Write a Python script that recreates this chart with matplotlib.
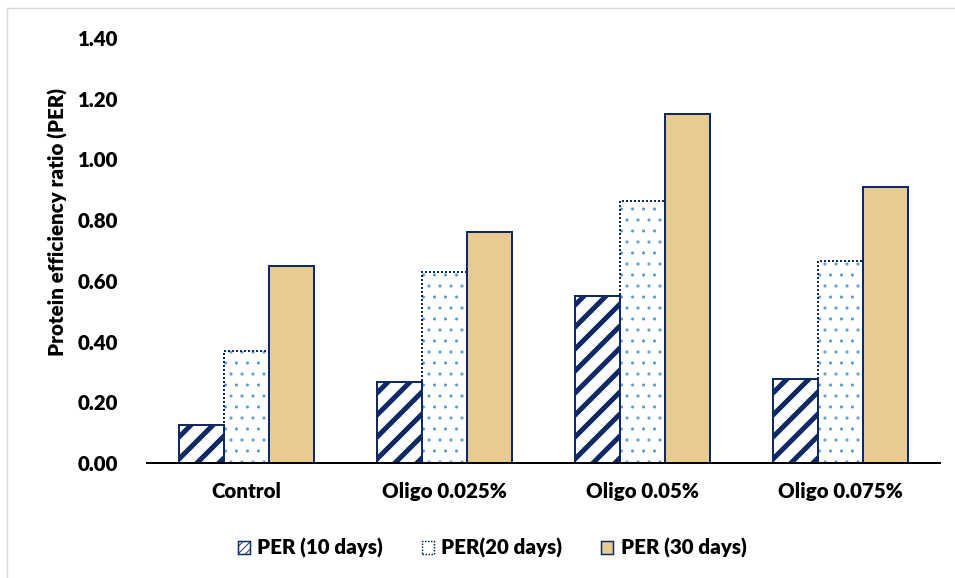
import matplotlib
matplotlib.use("Agg")
import matplotlib.pyplot as plt
from matplotlib.patches import Rectangle, Patch
import numpy as np

categories = ["Control", "Oligo 0.025%", "Oligo 0.05%", "Oligo 0.075%"]
series_names = ["PER (10 days)", "PER(20 days)", "PER (30 days)"]
per_10 = [0.125, 0.267, 0.55, 0.277]
per_20 = [0.37, 0.63, 0.863, 0.665]
per_30 = [0.65, 0.76, 1.15, 0.91]
yticks = [0.0, 0.2, 0.4, 0.6, 0.8, 1.0, 1.2, 1.4]

DPI = 66
PT = 72.0 / DPI  # points per pixel
FS = 20.5 * PT

plt.rcParams['font.family'] = ['Lato', 'DejaVu Sans']
plt.rcParams['font.weight'] = 'heavy'

W, H = 955, 578
fig = plt.figure(figsize=(W / DPI, H / DPI), dpi=DPI)
ax = fig.add_axes([147 / W, 1 - 463 / H, 793 / W, 425 / H])

navy = "#0D2A66"
dotblue = "#5B9BD5"
tan = "#E8CB92"

x = np.arange(len(categories))
bw = 0.227

def set_hlw(bars, lw):
    for b in bars:
        if hasattr(b, "set_hatch_linewidth"):
            b.set_hatch_linewidth(lw)

# 10 days: diagonal stripes
with plt.rc_context({'hatch.linewidth': 5.0 * PT}):
    b1 = ax.bar(x - bw, per_10, bw, facecolor="white", edgecolor=navy,
                hatch="/", linewidth=0, zorder=2)
set_hlw(b1, 5.0 * PT)
ax.bar(x - bw, per_10, bw, facecolor="none", edgecolor=navy,
       linewidth=2.0 * PT, zorder=3)

# 20 days: dots
with plt.rc_context({'hatch.linewidth': 0.9 * PT}):
    b2 = ax.bar(x, per_20, bw, facecolor="white", edgecolor=dotblue,
                hatch=".", linewidth=0, zorder=2)
set_hlw(b2, 0.9 * PT)
ax.bar(x, per_20, bw, facecolor="none", edgecolor=navy,
       linewidth=2.0 * PT, linestyle=(0, (1, 1)), zorder=3)

# 30 days: papyrus-like fill
ax.bar(x + bw, per_30, bw, facecolor=tan, edgecolor=navy,
       linewidth=2.0 * PT, zorder=2)

ax.set_xlim(-0.5, len(categories) - 0.5)
ax.set_ylim(0, 1.4)
ax.set_yticks(yticks)
ax.set_yticklabels([f"{v:.2f}" for v in yticks])
ax.set_xticks(x)
ax.set_xticklabels(categories)
ax.tick_params(axis='y', length=0, pad=29 * PT, labelsize=FS)
ax.tick_params(axis='x', length=0, pad=19 * PT, labelsize=FS)
for s in ["top", "right", "left"]:
    ax.spines[s].set_visible(False)
ax.spines["bottom"].set_linewidth(2.0 * PT)
ax.spines["bottom"].set_color("black")
ax.spines["bottom"].set_zorder(4)

ax.set_ylabel("Protein efficiency ratio (PER)", fontsize=FS,
              fontweight='heavy', va='center')
ax.yaxis.set_label_coords((58 - 147) / 793, (463 - 222) / 425)

# legend
h1 = Patch(facecolor="white", edgecolor=navy, hatch="///", linewidth=1.5 * PT)
h2 = Patch(facecolor="white", edgecolor=navy, linestyle=(0, (1, 1)), linewidth=1.5 * PT)
h3 = Patch(facecolor=tan, edgecolor=navy, linewidth=1.5 * PT)
leg = fig.legend([h1, h2, h3], series_names, loc="center",
                 bbox_to_anchor=(492 / W, 1 - 548 / H), ncol=3, frameon=False,
                 fontsize=FS, handlelength=0.6, handleheight=0.6,
                 handletextpad=0.35, columnspacing=1.9)

# light gray frame
fig.add_artist(Rectangle((7 / W, -0.05), 1.1, (1 - 8 / H) + 0.05,
                         transform=fig.transFigure, facecolor="none",
                         edgecolor="#D9D9D9", linewidth=1.5 * PT))

fig.savefig("out.png", dpi=DPI)
